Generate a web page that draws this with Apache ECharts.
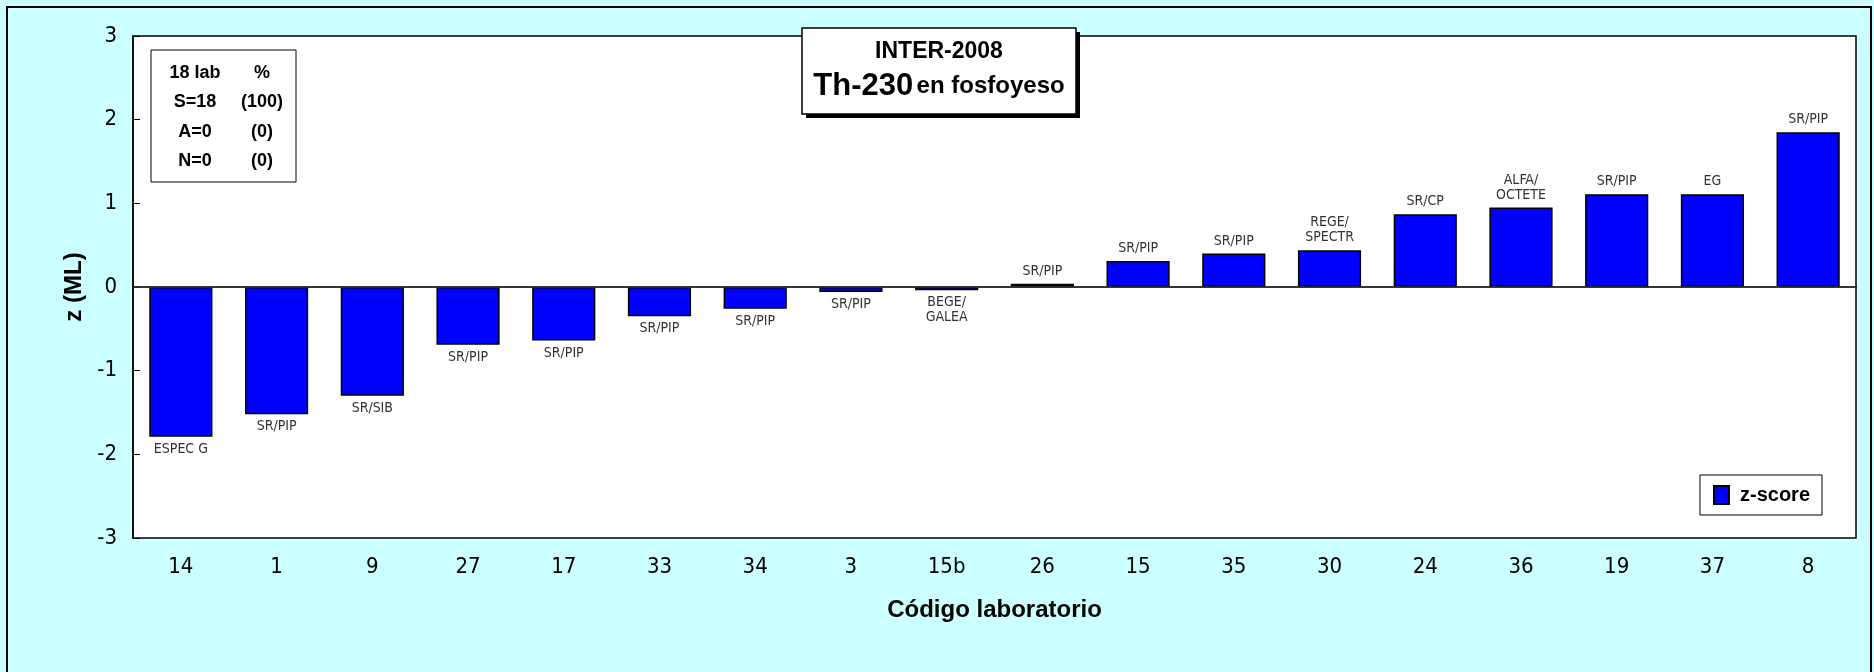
<!DOCTYPE html>
<html>
<head>
<meta charset="utf-8">
<script src="https://cdn.jsdelivr.net/npm/echarts@6/dist/echarts.min.js"></script>
<style>
  html, body { margin: 0; padding: 0; background: #ccffff; }
  #main { width: 1874px; height: 672px; }
</style>
</head>
<body>
<div id="main"></div>
<script>
// lab codes along the x axis, sorted by z-score
const labCodes = ['14', '1', '9', '27', '17', '33', '34', '3', '15b', '26', '15', '35', '30', '24', '36', '19', '37', '8']
const zScores = [-1.79, -1.52, -1.30, -0.69, -0.64, -0.35, -0.26, -0.06, -0.04, 0.04, 0.31, 0.40, 0.44, 0.87, 0.95, 1.11, 1.11, 1.85]
const methods = ['ESPEC G', 'SR/PIP', 'SR/SIB', 'SR/PIP', 'SR/PIP', 'SR/PIP', 'SR/PIP', 'SR/PIP', 'BEGE/\nGALEA', 'SR/PIP',
  'SR/PIP', 'SR/PIP', 'REGE/\nSPECTR', 'SR/CP', 'ALFA/\nOCTETE', 'SR/PIP', 'EG', 'SR/PIP']
const summaryRows = [['18 lab', '%'], ['S=18', '(100)'], ['A=0', '(0)'], ['N=0', '(0)']]

const narrow = "'Liberation Sans Narrow', 'Arial Narrow', 'DejaVu Sans Condensed', sans-serif"
const arial = "'Liberation Sans', Arial, sans-serif"

const chart = echarts.init(document.getElementById('main'))

const barData = zScores.map((v, i) => {
  return {
    value: v,
    label: {
      position: v < 0 ? 'bottom' : 'top',
      formatter: methods[i]
    }
  }
})

// summary box texts (upper left)
const summaryTexts = []
summaryRows.forEach((row, r) => {
  row.forEach((txt, c) => {
    summaryTexts.push({
      type: 'text',
      x: c === 0 ? 195 : 262,
      y: 73 + r * 29.3,
      z: 12,
      style: { text: txt, font: 'bold 18px ' + arial, fill: '#000', align: 'center', verticalAlign: 'middle' }
    })
  })
})

const option = {
  backgroundColor: '#ccffff',
  animation: false,
  grid: {
    left: 133,
    top: 36,
    right: 18,
    bottom: 134,
    show: true,
    backgroundColor: '#ffffff',
    borderColor: '#000',
    borderWidth: 1.5
  },
  legend: {
    right: 52,
    top: 475,
    icon: 'rect',
    itemWidth: 15,
    itemHeight: 18,
    padding: [10, 12, 10, 13],
    backgroundColor: '#fff',
    borderColor: '#000',
    borderWidth: 1,
    textStyle: {
      fontFamily: arial,
      fontWeight: 'bold',
      fontSize: 20,
      color: '#000',
      padding: [0, 0, 0, 6]
    },
    data: ['z-score']
  },
  xAxis: {
    type: 'category',
    data: labCodes,
    name: 'Código laboratorio',
    nameLocation: 'middle',
    nameGap: 60,
    nameTextStyle: { fontFamily: arial, fontWeight: 'bold', fontSize: 24, color: '#000' },
    axisLine: { lineStyle: { color: '#000', width: 1.5 } },
    axisTick: { show: false },
    axisLabel: { fontFamily: narrow, fontSize: 22, color: '#000', margin: 18 }
  },
  yAxis: {
    type: 'value',
    min: -3,
    max: 3,
    interval: 1,
    name: 'z (ML)',
    nameLocation: 'middle',
    nameGap: 38,
    nameTextStyle: { fontFamily: arial, fontWeight: 'bold', fontSize: 24, color: '#000' },
    axisLine: { show: true, lineStyle: { color: '#000', width: 1.5 } },
    axisTick: { show: true, inside: true, length: 7, lineStyle: { color: '#000' } },
    splitLine: { show: false },
    axisLabel: { fontFamily: narrow, fontSize: 22, color: '#000', margin: 16 }
  },
  series: [
    {
      name: 'z-score',
      type: 'bar',
      barWidth: '66%',
      data: barData,
      itemStyle: { color: '#0000ff', borderColor: '#000', borderWidth: 1.5 },
      label: {
        show: true,
        distance: 5,
        fontFamily: narrow,
        fontSize: 14,
        lineHeight: 15,
        color: '#333'
      },
      markLine: {
        silent: true,
        symbol: 'none',
        label: { show: false },
        lineStyle: { color: '#333', width: 1.5, type: 'solid' },
        data: [{ yAxis: 0 }]
      }
    }
  ],
  graphic: [
    {
      type: 'rect',
      shape: { x: 7, y: 7, width: 1864, height: 720 },
      style: { fill: 'none', stroke: '#000', lineWidth: 2 },
      silent: true
    },
    {
      type: 'rect',
      shape: { x: 151, y: 50, width: 145, height: 132 },
      style: { fill: '#fff', stroke: '#000', lineWidth: 1 },
      z: 10
    },
    ...summaryTexts,
    {
      type: 'rect',
      shape: { x: 806, y: 32, width: 274, height: 86 },
      style: { fill: '#000' },
      z: 10
    },
    {
      type: 'rect',
      shape: { x: 802, y: 28, width: 274, height: 86 },
      style: { fill: '#fff', stroke: '#000', lineWidth: 1.5 },
      z: 11
    },
    {
      type: 'text',
      x: 939,
      y: 52,
      z: 12,
      style: { text: 'INTER-2008', font: 'bold 23px ' + arial, fill: '#000', align: 'center', verticalAlign: 'middle' }
    },
    {
      type: 'text',
      x: 939,
      y: 86,
      z: 12,
      style: {
        text: '{a|Th-230} {b|en fosfoyeso}',
        align: 'center',
        verticalAlign: 'middle',
        rich: {
          a: { fontFamily: arial, fontWeight: 'bold', fontSize: 31, fill: '#000', color: '#000' },
          b: { fontFamily: arial, fontWeight: 'bold', fontSize: 24, fill: '#000', color: '#000' }
        }
      }
    }
  ]
}

chart.setOption(option)
</script>
</body>
</html>
